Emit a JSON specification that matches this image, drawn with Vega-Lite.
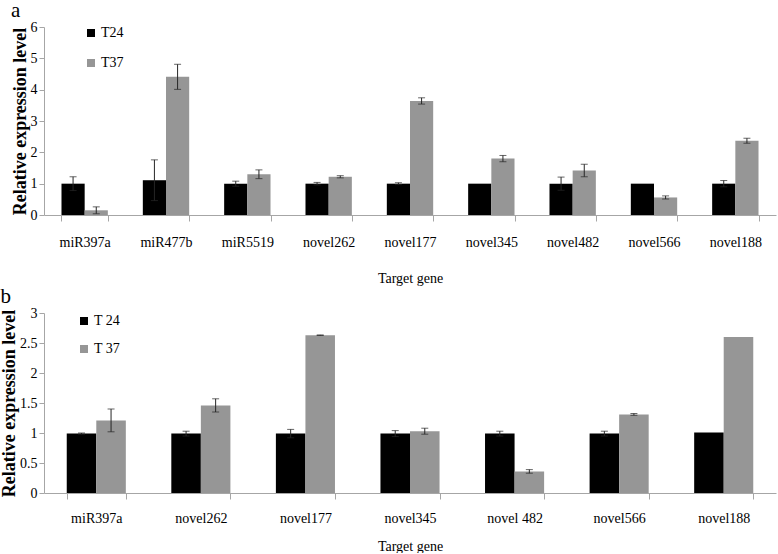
{
  "$schema": "https://vega.github.io/schema/vega-lite/v6.json",
  "padding": {"left": 0, "top": 0, "right": 1, "bottom": 0},
  "background": "white",
  "config": {
    "font": "Liberation Serif, Times New Roman, serif",
    "view": {"stroke": null},
    "axis": {"grid": false, "domainColor": "#a6a6a6", "tickColor": "#a6a6a6", "labelColor": "black", "labelFontSize": 14, "titleColor": "black", "labelFont": "Liberation Serif, Times New Roman, serif", "titleFont": "Liberation Serif, Times New Roman, serif"},
    "axisX": {"tickBand": "extent", "tickSize": 6, "labelAngle": 0, "titleFontSize": 14, "titleFontWeight": "normal"},
    "axisY": {"tickSize": 5, "labelPadding": 2, "titleFontSize": 18, "titleFontWeight": "bold", "titlePadding": 1, "format": "~g"},
    "legend": {"orient": "none", "title": null, "symbolType": "square", "symbolSize": 64, "symbolStrokeWidth": 0, "labelFontSize": 14, "labelFont": "Liberation Serif, Times New Roman, serif", "labelColor": "black", "labelOffset": 3, "padding": 0},
    "title": {"font": "Liberation Serif, Times New Roman, serif", "fontWeight": "normal", "fontSize": 21, "anchor": "start", "frame": "bounds", "color": "black"}
  },
  "datasets": {
    "a": [
      {"gene": "miR397a", "series": "T24", "value": 1.0, "lo": 0.78, "hi": 1.22},
      {"gene": "miR397a", "series": "T37", "value": 0.15, "lo": 0.04, "hi": 0.26},
      {"gene": "miR477b", "series": "T24", "value": 1.11, "lo": 0.46, "hi": 1.76},
      {"gene": "miR477b", "series": "T37", "value": 4.41, "lo": 4.01, "hi": 4.81},
      {"gene": "miR5519", "series": "T24", "value": 1.0, "lo": 0.92, "hi": 1.08},
      {"gene": "miR5519", "series": "T37", "value": 1.3, "lo": 1.16, "hi": 1.44},
      {"gene": "novel262", "series": "T24", "value": 1.0, "lo": 0.96, "hi": 1.04},
      {"gene": "novel262", "series": "T37", "value": 1.22, "lo": 1.185, "hi": 1.255},
      {"gene": "novel177", "series": "T24", "value": 1.0, "lo": 0.97, "hi": 1.03},
      {"gene": "novel177", "series": "T37", "value": 3.64, "lo": 3.54, "hi": 3.74},
      {"gene": "novel345", "series": "T24", "value": 1.0, "lo": null, "hi": null},
      {"gene": "novel345", "series": "T37", "value": 1.8, "lo": 1.7, "hi": 1.9},
      {"gene": "novel482", "series": "T24", "value": 1.0, "lo": 0.79, "hi": 1.21},
      {"gene": "novel482", "series": "T37", "value": 1.42, "lo": 1.22, "hi": 1.62},
      {"gene": "novel566", "series": "T24", "value": 1.0, "lo": null, "hi": null},
      {"gene": "novel566", "series": "T37", "value": 0.56, "lo": 0.51, "hi": 0.61},
      {"gene": "novel188", "series": "T24", "value": 1.0, "lo": 0.9, "hi": 1.1},
      {"gene": "novel188", "series": "T37", "value": 2.37, "lo": 2.29, "hi": 2.45}
    ],
    "b": [
      {"gene": "miR397a", "series": "T 24", "value": 0.99, "lo": 0.98, "hi": 1.0},
      {"gene": "miR397a", "series": "T 37", "value": 1.21, "lo": 1.02, "hi": 1.4},
      {"gene": "novel262", "series": "T 24", "value": 0.99, "lo": 0.95, "hi": 1.03},
      {"gene": "novel262", "series": "T 37", "value": 1.46, "lo": 1.35, "hi": 1.57},
      {"gene": "novel177", "series": "T 24", "value": 0.99, "lo": 0.92, "hi": 1.06},
      {"gene": "novel177", "series": "T 37", "value": 2.63, "lo": 2.625, "hi": 2.635},
      {"gene": "novel345", "series": "T 24", "value": 0.99, "lo": 0.94, "hi": 1.04},
      {"gene": "novel345", "series": "T 37", "value": 1.03, "lo": 0.98, "hi": 1.08},
      {"gene": "novel 482", "series": "T 24", "value": 0.99, "lo": 0.95, "hi": 1.03},
      {"gene": "novel 482", "series": "T 37", "value": 0.36, "lo": 0.33, "hi": 0.39},
      {"gene": "novel566", "series": "T 24", "value": 0.99, "lo": 0.95, "hi": 1.03},
      {"gene": "novel566", "series": "T 37", "value": 1.31, "lo": 1.295, "hi": 1.325},
      {"gene": "novel188", "series": "T 24", "value": 1.01, "lo": null, "hi": null},
      {"gene": "novel188", "series": "T 37", "value": 2.6, "lo": null, "hi": null}
    ]
  },
  "spacing": 1,
  "resolve": {"scale": {"color": "independent", "x": "independent", "y": "independent", "xOffset": "independent"}, "legend": {"color": "independent"}},
  "vconcat": [
    {
      "title": {"text": "a", "baseline": "alphabetic", "offset": -18},
      "width": 732,
      "height": 188,
      "data": {"name": "a"},
      "encoding": {
        "x": {"field": "gene", "type": "nominal", "sort": null, "title": "Target gene", "scale": {"paddingInner": 0.43, "paddingOuter": 0.215}, "axis": {"labelPadding": 14, "titlePadding": 22}},
        "xOffset": {"field": "series", "type": "nominal", "scale": {"paddingInner": 0, "paddingOuter": 0}}
      },
      "layer": [
        {
          "mark": {"type": "bar"},
          "encoding": {
            "y": {"field": "value", "type": "quantitative", "title": "Relative expression level", "scale": {"domain": [0, 6], "nice": false}, "axis": {"values": [0, 1, 2, 3, 4, 5, 6]}},
            "color": {"field": "series", "type": "nominal", "scale": {"domain": ["T24", "T37"], "range": ["#000000", "#969696"]}, "legend": {"legendX": 40, "legendY": -1, "rowPadding": 16}}
          }
        },
        {
          "mark": {"type": "rule", "color": "#262626", "strokeWidth": 1},
          "encoding": {"y": {"field": "lo", "type": "quantitative", "title": "Relative expression level", "axis": {"values": [0, 1, 2, 3, 4, 5, 6]}}, "y2": {"field": "hi"}}
        },
        {
          "mark": {"type": "tick", "color": "#262626", "size": 7, "thickness": 1},
          "encoding": {"y": {"field": "lo", "type": "quantitative", "title": "Relative expression level", "axis": {"values": [0, 1, 2, 3, 4, 5, 6]}}}
        },
        {
          "mark": {"type": "tick", "color": "#262626", "size": 7, "thickness": 1},
          "encoding": {"y": {"field": "hi", "type": "quantitative", "title": "Relative expression level", "axis": {"values": [0, 1, 2, 3, 4, 5, 6]}}}
        }
      ]
    },
    {
      "title": {"text": "b", "baseline": "alphabetic", "offset": -18},
      "width": 732,
      "height": 180,
      "data": {"name": "b"},
      "encoding": {
        "x": {"field": "gene", "type": "nominal", "sort": null, "title": "Target gene", "scale": {"paddingInner": 0.435, "paddingOuter": 0.2175}, "axis": {"labelPadding": 12, "titlePadding": 14}},
        "xOffset": {"field": "series", "type": "nominal", "scale": {"paddingInner": 0, "paddingOuter": 0}}
      },
      "layer": [
        {
          "mark": {"type": "bar"},
          "encoding": {
            "y": {"field": "value", "type": "quantitative", "title": "Relative expression level", "scale": {"domain": [0, 3], "nice": false}, "axis": {"values": [0, 0.5, 1, 1.5, 2, 2.5, 3]}},
            "color": {"field": "series", "type": "nominal", "scale": {"domain": ["T 24", "T 37"], "range": ["#000000", "#969696"]}, "legend": {"legendX": 33, "legendY": 1, "rowPadding": 14}}
          }
        },
        {
          "mark": {"type": "rule", "color": "#262626", "strokeWidth": 1},
          "encoding": {"y": {"field": "lo", "type": "quantitative", "title": "Relative expression level", "axis": {"values": [0, 0.5, 1, 1.5, 2, 2.5, 3]}}, "y2": {"field": "hi"}}
        },
        {
          "mark": {"type": "tick", "color": "#262626", "size": 7, "thickness": 1},
          "encoding": {"y": {"field": "lo", "type": "quantitative", "title": "Relative expression level", "axis": {"values": [0, 0.5, 1, 1.5, 2, 2.5, 3]}}}
        },
        {
          "mark": {"type": "tick", "color": "#262626", "size": 7, "thickness": 1},
          "encoding": {"y": {"field": "hi", "type": "quantitative", "title": "Relative expression level", "axis": {"values": [0, 0.5, 1, 1.5, 2, 2.5, 3]}}}
        }
      ]
    }
  ]
}
